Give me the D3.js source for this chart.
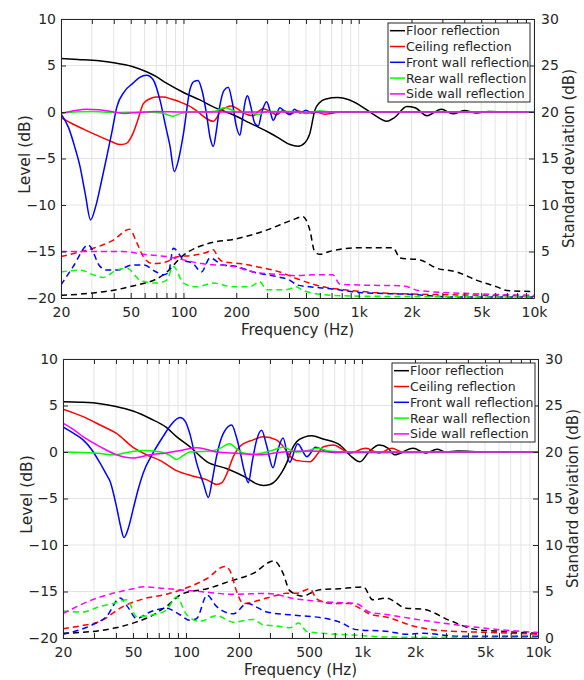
<!DOCTYPE html>
<html>
<head>
<meta charset="utf-8">
<script src="https://cdn.jsdelivr.net/npm/d3@7"></script>
<style>
	body { margin: 0; background: #fff; }
	text { font-family: "DejaVu Sans", Verdana, sans-serif; fill: #262626; }
</style>
</head>
<body>
<svg id="chart" width="584" height="680"></svg>
<script>

var seriesNames = ["Floor reflection", "Ceiling reflection", "Front wall reflection", "Rear wall reflection", "Side wall reflection"];
var seriesColors = ["#000000", "#ff0000", "#0000ff", "#00ff00", "#ff00ff"];

var freqTicks = [20, 50, 100, 200, 500, 1000, 2000, 5000, 10000];
var freqTickLabels = ["20", "50", "100", "200", "500", "1k", "2k", "5k", "10k"];
var levelTicks = [-20, -15, -10, -5, 0, 5, 10];
var stdTicks = [0, 5, 10, 15, 20, 25, 30];

// upper panel, level (dB), [Hz, dB]
var floorLevelA = [[20,5.75],[25,5.65],[33,5.5],[40,5.3],[51,4.9],[62,4.3],[70,3.8],[80,3.1],[100,2.1],[124,1.3],[150,0.5],[192,-0.3],[240,-1.2],[300,-2.1],[350,-2.8],[405,-3.5],[450,-3.68],[493,-3.3],[526,-2.3],[562,0.2],[597,1.0],[650,1.4],[760,1.55],[870,1.35],[1000,0.8],[1200,-0.2],[1450,-1.0],[1600,-0.6],[1880,0.6],[2100,0.45],[2450,-0.4],[2960,0.3],[3450,-0.2],[4000,0.15],[4700,-0.1],[5500,0.05],[7000,0],[10000,0]];
var ceilingLevelA = [[20,-0.6],[24,-1.4],[28,-2.0],[33.4,-2.65],[38,-3.1],[43.3,-3.5],[47,-3.4],[51.5,-2.3],[55,-0.8],[59,0.9],[64,1.4],[70,1.6],[76.7,1.6],[85,1.4],[95,1.1],[113.6,0.4],[125,-0.2],[135,-0.7],[148,-1.0],[155,-0.6],[161,0.0],[175,0.5],[188,0.65],[205,0.3],[219,-0.1],[250,-0.4],[265,0.0],[285,0.35],[310,0.1],[340,-0.3],[370,0.2],[410,-0.2],[450,0.1],[500,-0.15],[560,0.05],[640,-0.25],[720,-0.1],[800,0],[10000,0]];
var frontLevelA = [[20,-0.2],[22,-1.6],[24,-3.8],[25.7,-5.9],[27.5,-8.8],[29.5,-11.6],[31.5,-10.2],[34,-7.5],[36.5,-4.8],[39,-2.2],[41.6,0.5],[46,2.2],[51.5,3.1],[56,3.7],[61.6,3.95],[67,3.5],[73.4,1.3],[79,-1.5],[83.8,-3.7],[88.6,-6.4],[94,-5.0],[100,-2.3],[108.8,2.4],[115,3.3],[121,3.4],[128,2.2],[135,-0.1],[142,-2.8],[148,-3.7],[154,-2.0],[161,0.6],[170,2.3],[180,2.65],[190,1.0],[200,-1.5],[210,-2.5],[218,-0.5],[226,1.3],[232,1.75],[242,0.6],[255,-1.2],[267,-1.5],[280,0.0],[298,1.1],[312,0.1],[325,-0.9],[340,-0.2],[355,0.45],[380,0.0],[405,-0.3],[430,0.3],[460,-0.1],[500,0.2],[540,-0.1],[600,0.05],[800,0],[10000,0]];
var rearLevelA = [[20,-0.1],[30,0.05],[40,-0.05],[60,0],[75,-0.1],[87,-0.45],[95,-0.2],[110,0],[150,0.05],[170,0.45],[185,0.3],[200,0],[240,-0.1],[270,-0.25],[300,0.05],[400,0.05],[500,-0.1],[600,0.1],[700,0],[10000,0]];
var sideLevelA = [[20,-0.2],[24,0.15],[28,0.3],[33,0.25],[40,0.0],[46,-0.15],[55,-0.05],[70,0.05],[100,0],[10000,0]];

// upper panel, standard deviation (dB)
var floorStdA = [[20,0.3],[29,0.5],[49,1.2],[77,2.5],[100,4.6],[148,6.0],[192,6.3],[298,7.3],[420,8.4],[480,8.75],[526,7.3],[560,5.0],[600,4.7],[680,5.0],[1000,5.4],[1570,5.4],[1720,4.3],[2230,4.1],[2790,3.2],[3630,2.8],[4720,1.9],[6140,1.2],[7000,0.8],[10000,0.7]];
var ceilingStdA = [[20,4.45],[25,4.9],[30.5,5.35],[39.6,6.2],[49.3,7.4],[54,6.0],[59,4.45],[66.8,3.7],[80,3.9],[91,4.4],[113.6,4.6],[135,4.9],[148,5.2],[158,4.3],[168,3.9],[210,3.7],[272,3.3],[355,2.8],[440,2.1],[526,1.6],[624,1.2],[820,0.9],[1200,0.6],[2300,0.4],[5000,0.3],[10000,0.2]];
var frontStdA = [[20,1.4],[23.5,3.4],[28.6,5.7],[33.4,3.4],[36.5,3.0],[41.6,3.0],[51.5,3.55],[59,3.55],[70,2.8],[76.7,2.5],[82,2.7],[87.5,5.35],[100,4.1],[113.6,3.7],[126.5,2.8],[141.6,4.3],[168,3.55],[200,3.4],[250,2.8],[340,2.3],[405,1.9],[445,1.4],[526,1.2],[690,1.0],[1000,0.6],[1900,0.4],[3600,0.1],[10000,0.1]];
var rearStdA = [[20,2.8],[25.7,3.0],[30.5,2.5],[34.6,2.2],[41.6,3.0],[47.5,3.2],[56.7,1.9],[70,1.6],[80,1.9],[87.5,3.4],[100,1.6],[119,1.2],[148,1.6],[192,1.2],[239,1.2],[272,1.75],[298,0.9],[387,0.9],[440,1.2],[480,0.8],[526,0.6],[690,0.3],[1000,0.2],[10000,0.1]];
var sideStdA = [[20,5.0],[45,5.0],[59,4.7],[80,4.45],[100,4.1],[126,3.7],[192,3.4],[250,2.8],[370,2.5],[440,2.4],[550,2.5],[710,2.5],[780,1.5],[1000,1.4],[1800,1.3],[2200,0.8],[4000,0.5],[10000,0.3]];

// lower panel, level (dB)
var floorLevelB = [[20,5.4],[25,5.35],[32.5,5.2],[40,4.9],[50,4.4],[62.5,3.6],[77.3,2.65],[88.3,1.65],[105,0.57],[131.7,-1.05],[170.9,-1.8],[222,-2.8],[250,-3.4],[275,-3.6],[300,-3.5],[326,-3.0],[350,-2.2],[373,-1.2],[400,0.3],[425,1.1],[470,1.6],[518,1.75],[600,1.4],[750,0.75],[860,-0.4],[974,-1.05],[1100,0.05],[1250,0.75],[1410,0.4],[1530,-0.3],[1950,0.4],[2300,-0.1],[2670,0.3],[3000,0],[3500,0.1],[5000,0],[10000,0]];
var ceilingLevelB = [[20,4.6],[26,3.8],[32.5,2.9],[40.3,2.0],[50,0.5],[59.7,-0.3],[71.1,-0.9],[88.3,-2.0],[110,-2.6],[131.7,-3.0],[149,-3.5],[160,-3.3],[170.9,-2.3],[185.7,-0.5],[202.4,0.6],[241,1.3],[275,1.65],[326,1.3],[360,0.5],[388,-0.4],[423,-0.9],[506,-1.05],[560,-0.2],[604,0.57],[687,0.75],[854,-0.1],[1050,0.4],[1250,-0.1],[1480,0.4],[1700,0],[10000,0]];
var frontLevelB = [[20,2.7],[23,2.0],[26,1.3],[29,0.3],[32.5,-1.2],[35,-2.3],[37.1,-3.2],[40.3,-5.9],[42.5,-8.0],[44.4,-9.2],[47,-8.2],[50,-6.2],[53.5,-4.0],[57,-2.3],[65,-0.1],[74,1.65],[82,2.9],[92.4,3.7],[99,3.3],[105,2.0],[115,-1.2],[125.6,-3.4],[134,-4.9],[141,-3.0],[149,-0.5],[163,2.0],[182,2.9],[192,1.8],[202,0.2],[214,-2.0],[226,-3.3],[238,-1.0],[252,1.3],[269,2.35],[288,0.6],[312,-1.7],[330,0.0],[356,1.5],[388,-1.1],[431,0.9],[486,-0.5],[545,0.5],[620,0.1],[700,-0.05],[10000,0]];
var rearLevelB = [[20,0],[30,-0.1],[38.6,-0.3],[48,0],[57,0.15],[72,0.0],[80,-0.3],[88.3,-0.8],[96,-0.4],[105,0],[140,0.1],[160,0.5],[177,0.9],[195,0.3],[211,-0.1],[241,-0.25],[300,0.1],[356,0.5],[423,0],[480,0.1],[560,0.4],[650,0.1],[800,0],[10000,0]];
var sideLevelB = [[20,3.1],[23,2.4],[26,1.65],[32.5,0.57],[40.3,-0.3],[50,-0.65],[62.5,-0.3],[77.3,-0.1],[95,0.2],[115,0.45],[130,0.3],[149,0],[200,-0.15],[262,-0.3],[356,0],[500,0.1],[700,0],[10000,0]];

// lower panel, standard deviation (dB)
var floorStdB = [[20,0.5],[32.5,0.8],[40,1.1],[50,1.6],[62.5,2.3],[77.3,3.4],[96.6,4.8],[131.7,5.3],[177,6.1],[241,6.95],[316,8.3],[356,6.95],[388,5.1],[464,4.5],[506,4.8],[576,5.2],[750,5.3],[1020,5.5],[1150,4.1],[1370,4.3],[1780,3.2],[2220,3.1],[3140,1.9],[4460,0.9],[5800,0.75],[10000,0.5]];
var ceilingStdB = [[20,1.0],[25,1.3],[32.5,1.8],[44,3.4],[57,4.2],[77.3,4.7],[101,5.4],[131.7,6.4],[166,7.7],[177,7.3],[194,5.0],[211,3.7],[288,4.3],[373,4.8],[423,4.8],[506,5.3],[552,4.2],[687,3.7],[854,3.7],[930,3.4],[1100,2.6],[1410,2.2],[1950,1.3],[2800,0.8],[5300,0.6],[10000,0.4]];
var frontStdB = [[20,0.4],[26,1.0],[30,1.5],[35.3,2.3],[42.2,4.3],[46.4,3.4],[52.4,2.1],[62.5,2.8],[77.3,3.2],[92.4,2.5],[105,1.9],[115,2.1],[131.7,4.6],[149,3.4],[186,2.6],[222,3.7],[288,2.8],[445,2.4],[576,2.2],[750,1.7],[930,0.9],[1410,0.7],[1780,0.4],[2220,0.5],[3500,0.2],[10000,0.2]];
var rearStdB = [[20,2.9],[26,2.8],[32.5,3.4],[38.6,3.7],[46.4,4.1],[52.4,2.3],[65,2.5],[77.3,3.0],[88.3,4.4],[101,2.5],[120,1.8],[149,2.4],[186,1.7],[241,2.0],[275,1.4],[326,1.3],[388,1.1],[437,1.6],[486,0.7],[604,0.5],[930,0.3],[1410,0.1],[10000,0.05]];
var sideStdB = [[20,2.65],[23,3.2],[26,3.7],[32.5,4.4],[40.3,4.9],[50,5.3],[57,5.5],[77.3,5.3],[120,5.0],[186,4.7],[288,4.8],[423,4.2],[604,3.9],[930,3.7],[1100,2.8],[1410,2.5],[2220,1.9],[3500,1.4],[5300,1.0],[8100,0.7],[10000,0.6]];

var svg = d3.select("#chart");
var axisColor = "#262626";

// minor freq positions for grid and ticks (20..10k)
var gridFreqs = [];
[10, 100, 1000].forEach(function(dec){
	for (var m = 1; m <= 9; m++){
		var f = dec*m;
		if (f >= 20) gridFreqs.push(f);
	}
});
gridFreqs.push(10000);

function drawPanel(p, levels, stds, id){
	var x = d3.scaleLog().domain([20, 10000]).range([p.left, p.right]);
	var yL = d3.scaleLinear().domain([-20, 10]).range([p.bottom, p.top]);
	var yR = d3.scaleLinear().domain([0, 30]).range([p.bottom, p.top]);

	var g = svg.append("g");

	// grid
	g.selectAll(".vgrid").data(gridFreqs).enter().append("line")
		.attr("x1", function(d){return x(d);})
		.attr("x2", function(d){return x(d);})
		.attr("y1", p.top).attr("y2", p.bottom)
		.style("stroke", "#e4e4e4").style("stroke-width", 1);
	g.selectAll(".hgrid").data(levelTicks).enter().append("line")
		.attr("x1", p.left).attr("x2", p.right)
		.attr("y1", function(d){return yL(d);})
		.attr("y2", function(d){return yL(d);})
		.style("stroke", "#e4e4e4").style("stroke-width", 1);

	g.append("clipPath").attr("id", id)
		.append("rect")
		.attr("x", p.left).attr("y", p.top)
		.attr("width", p.right - p.left).attr("height", p.bottom - p.top);

	var plot = g.append("g").attr("clip-path", "url(#" + id + ")");

	var lineL = d3.line().x(function(d){return x(d[0]);}).y(function(d){return yL(d[1]);}).curve(d3.curveMonotoneX);
	var lineR = d3.line().x(function(d){return x(d[0]);}).y(function(d){return yR(d[1]);}).curve(d3.curveMonotoneX);

	stds.forEach(function(s, i){
		plot.append("path").attr("d", lineR(s))
			.style("fill", "none").style("stroke", seriesColors[i])
			.style("stroke-width", 1.5).style("stroke-dasharray", "6,4");
	});
	levels.forEach(function(s, i){
		plot.append("path").attr("d", lineL(s))
			.style("fill", "none").style("stroke", seriesColors[i])
			.style("stroke-width", 1.5);
	});

	// axes
	var bottomAxis = d3.axisBottom(x).tickValues(gridFreqs)
		.tickFormat(function(d){ var k = freqTicks.indexOf(d); return k < 0 ? "" : freqTickLabels[k]; })
		.tickSizeInner(-5).tickSizeOuter(0).tickPadding(9);
	var topAxis = d3.axisTop(x).tickValues(gridFreqs).tickFormat("")
		.tickSizeInner(-5).tickSizeOuter(0);
	var leftAxis = d3.axisLeft(yL).tickValues(levelTicks).tickFormat(d3.format("d"))
		.tickSizeInner(-5).tickSizeOuter(0).tickPadding(5);
	var rightAxis = d3.axisRight(yR).tickValues(stdTicks)
		.tickSizeInner(-5).tickSizeOuter(0).tickPadding(7);

	var axes = [
		g.append("g").attr("transform", "translate(0," + p.bottom + ")").call(bottomAxis),
		g.append("g").attr("transform", "translate(0," + p.top + ")").call(topAxis),
		g.append("g").attr("transform", "translate(" + p.left + ",0)").call(leftAxis),
		g.append("g").attr("transform", "translate(" + p.right + ",0)").call(rightAxis)
	];
	axes.forEach(function(a){
		a.selectAll("path, line").style("stroke", axisColor);
		a.selectAll("text").style("font-size", "14px").style("fill", axisColor)
			.style("font-family", "'DejaVu Sans', Verdana, sans-serif");
	});

	// axis labels
	g.append("text")
		.attr("x", (p.left + p.right)/2).attr("y", p.bottom + 37)
		.attr("text-anchor", "middle").style("font-size", "15px")
		.text("Frequency (Hz)");
	g.append("text")
		.attr("transform", "translate(" + (p.left - 31) + "," + ((p.top + p.bottom)/2 - 4) + ") rotate(-90)")
		.attr("text-anchor", "middle").style("font-size", "15.5px")
		.text("Level (dB)");
	g.append("text")
		.attr("transform", "translate(" + (p.right + 40) + "," + ((p.top + p.bottom)/2) + ") rotate(-90)")
		.attr("text-anchor", "middle").style("font-size", "15px")
		.text("Standard deviation (dB)");

	// legend
	var lg = g.append("g").attr("transform", "translate(" + p.legX + "," + (p.top + 4) + ")");
	lg.append("rect").attr("x", 0).attr("y", 0).attr("width", p.legW).attr("height", 79)
		.style("fill", "#fff").style("stroke", axisColor).style("stroke-width", 1);
	seriesNames.forEach(function(name, i){
		var cy = 7.7 + i*15.8;
		lg.append("line").attr("x1", 2).attr("x2", 17).attr("y1", cy).attr("y2", cy)
			.style("stroke", seriesColors[i]).style("stroke-width", 1.5);
		lg.append("text").attr("x", 18).attr("y", cy + 4.5)
			.style("font-size", "12.5px").text(name);
	});
}

drawPanel({left: 61, right: 534, top: 19, bottom: 298, legX: 388, legW: 142},
	[floorLevelA, ceilingLevelA, frontLevelA, rearLevelA, sideLevelA],
	[floorStdA, ceilingStdA, frontStdA, rearStdA, sideStdA], "clipA");

drawPanel({left: 63, right: 538, top: 359, bottom: 638, legX: 392, legW: 143},
	[floorLevelB, ceilingLevelB, frontLevelB, rearLevelB, sideLevelB],
	[floorStdB, ceilingStdB, frontStdB, rearStdB, sideStdB], "clipB");

</script>
</body>
</html>
